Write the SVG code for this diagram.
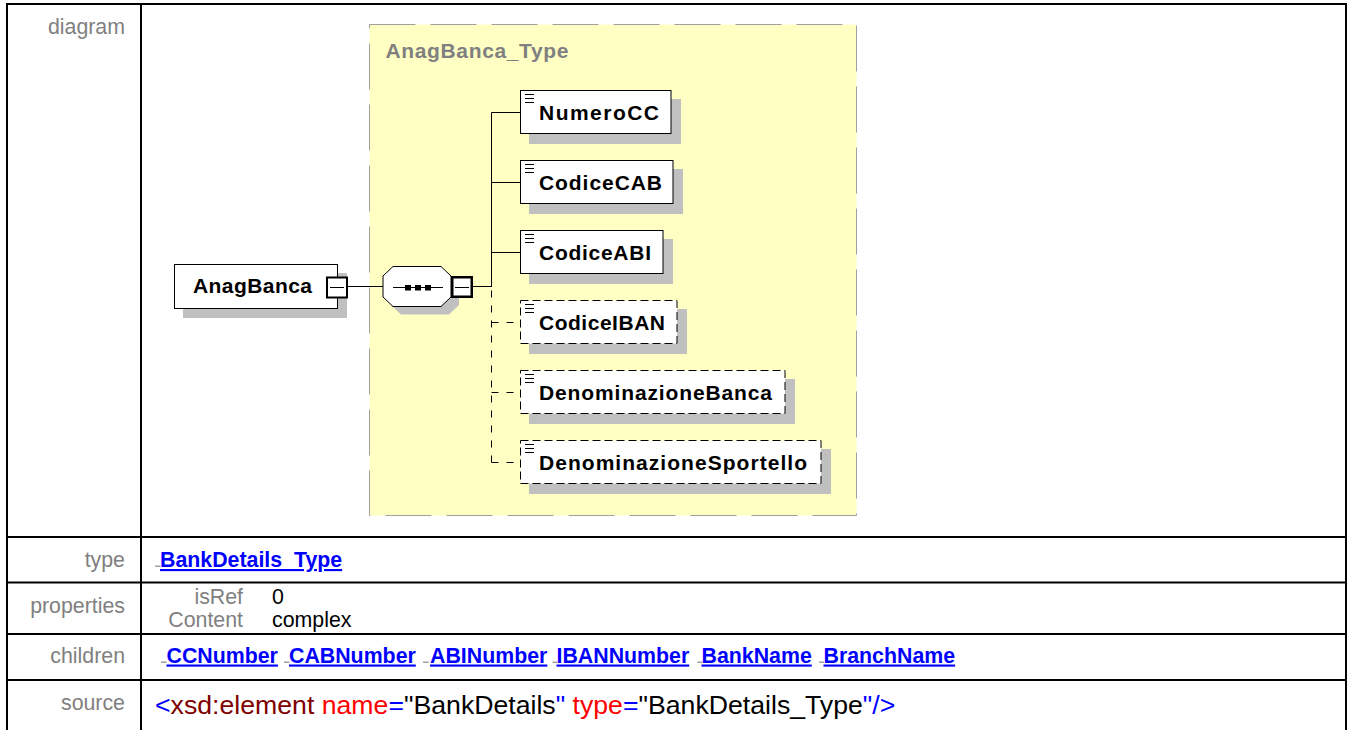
<svg xmlns="http://www.w3.org/2000/svg" width="1348" height="730" viewBox="0 0 1348 730">
<style>
.lbl{font-family:"Liberation Sans",Arial,sans-serif;font-size:21.33px;fill:#808080;text-anchor:end}
.val{font-family:"Liberation Sans",Arial,sans-serif;font-size:21.33px;fill:#000}
.lnk{font-family:"Liberation Sans",Arial,sans-serif;font-size:21.33px;font-weight:bold;fill:#0000ff;text-decoration:underline}
.src{font-family:"Liberation Sans",Arial,sans-serif;font-size:26.67px}
.nd{font-family:"Liberation Sans",Arial,sans-serif;font-size:21px;font-weight:bold;fill:#000}
.box{fill:#fff;stroke:#000;stroke-width:1}
.opt{stroke-dasharray:8 4}
.sh{fill:#c0c0c0}
.grid{stroke:#000;stroke-width:2;fill:none}
.con{stroke:#000;stroke-width:1;fill:none}
.dcon{stroke:#000;stroke-width:1;fill:none;stroke-dasharray:7 8}
.mark{fill:#a0a0a0}
.ico{stroke:#000;stroke-width:1}
</style>
<rect x="0" y="0" width="1348" height="730" fill="#fff"/>

<!-- table grid -->
<g id="table">
<line class="grid" x1="6" y1="4" x2="1347" y2="4"/>
<line class="grid" x1="7" y1="4" x2="7" y2="730"/>
<line class="grid" x1="141" y1="4" x2="141" y2="730"/>
<line class="grid" x1="1346" y1="4" x2="1346" y2="730"/>
<line class="grid" x1="6" y1="537" x2="1347" y2="537"/>
<line class="grid" x1="6" y1="582.5" x2="1347" y2="582.5"/>
<line class="grid" x1="6" y1="634" x2="1347" y2="634"/>
<line class="grid" x1="6" y1="680" x2="1347" y2="680"/>
<text class="lbl" x="125" y="34">diagram</text>
<text class="lbl" x="125" y="567">type</text>
<text class="lbl" x="125" y="613">properties</text>
<text class="lbl" x="125" y="663">children</text>
<text class="lbl" x="125" y="710">source</text>
</g>

<!-- complex type container -->
<g id="AnagBanca_Type">
<rect x="369.5" y="24.5" width="487" height="491" fill="#ffffc4" stroke="#a0a0a0" stroke-width="1" stroke-dasharray="46 15"/>
<text class="nd" x="385.5" y="57.5" style="fill:#808080" textLength="183" lengthAdjust="spacing">AnagBanca_Type</text>
</g>

<!-- connectors -->
<g id="connectors">
<line class="con" x1="348" y1="286.5" x2="383" y2="286.5"/>
<line class="con" x1="473" y1="286.5" x2="491.5" y2="286.5"/>
<path class="con" d="M491.5,112.5 V287"/>
<path class="con" d="M491.5,112.5 H520.5"/>
<path class="con" d="M491.5,182.5 H520.5"/>
<path class="con" d="M491.5,252.5 H520.5"/>
<path class="dcon" d="M491.5,462.5 V287"/>
<path class="dcon" d="M491.5,322.5 H520.5"/>
<path class="dcon" d="M491.5,392.5 H520.5"/>
<path class="dcon" d="M491.5,462.5 H520.5"/>
</g>

<!-- root element -->
<g id="AnagBanca">
<rect class="sh" x="183" y="273" width="164" height="45"/>
<rect class="box" x="174.5" y="264.5" width="163" height="44"/>
<text class="nd" x="193" y="293" textLength="119" lengthAdjust="spacing">AnagBanca</text>
<rect x="327" y="277.5" width="20" height="20" fill="#fff" stroke="#000" stroke-width="2"/>
<line class="ico" x1="330" y1="287.5" x2="344" y2="287.5"/>
</g>

<!-- sequence compositor -->
<g id="sequence">
<polygon class="sh" points="401,274.5 449,274.5 459,284 459,305 449,314.5 401,314.5 391,305 391,284"/>
<polygon class="box" points="393,266.5 441,266.5 451,276 451,297 441,306.5 393,306.5 383,297 383,276"/>
<line class="ico" x1="393" y1="287.5" x2="443" y2="287.5"/>
<rect x="405" y="285" width="6" height="5.5" fill="#000"/>
<rect x="415" y="285" width="6" height="5.5" fill="#000"/>
<rect x="425" y="285" width="6" height="5.5" fill="#000"/>
<rect x="452.25" y="277.25" width="19.5" height="19.5" fill="#fff" stroke="#000" stroke-width="2.5"/>
<line class="ico" x1="455" y1="287.5" x2="469" y2="287.5"/>
</g>

<g id="NumeroCC">
<rect class="sh" x="529" y="99" width="152" height="45"/>
<rect class="box" x="520.5" y="90.5" width="150.5" height="43"/>
<path class="ico" d="M525,94.5 h9 M525,98.5 h9 M525,102.5 h9"/>
<text class="nd" x="539" y="119.5" textLength="120" lengthAdjust="spacing">NumeroCC</text>
</g>
<g id="CodiceCAB">
<rect class="sh" x="529" y="169" width="154" height="45"/>
<rect class="box" x="520.5" y="160.5" width="152.5" height="43"/>
<path class="ico" d="M525,164.5 h9 M525,168.5 h9 M525,172.5 h9"/>
<text class="nd" x="539" y="189.5" textLength="123" lengthAdjust="spacing">CodiceCAB</text>
</g>
<g id="CodiceABI">
<rect class="sh" x="529" y="239" width="144" height="45"/>
<rect class="box" x="520.5" y="230.5" width="142.5" height="43"/>
<path class="ico" d="M525,234.5 h9 M525,238.5 h9 M525,242.5 h9"/>
<text class="nd" x="539" y="259.5" textLength="112" lengthAdjust="spacing">CodiceABI</text>
</g>
<g id="CodiceIBAN">
<rect class="sh" x="529" y="309" width="158" height="45"/>
<rect class="box opt" x="520.5" y="300.5" width="156.5" height="43"/>
<path class="ico" d="M525,304.5 h9 M525,308.5 h9 M525,312.5 h9"/>
<text class="nd" x="539" y="329.5" textLength="126" lengthAdjust="spacing">CodiceIBAN</text>
</g>
<g id="DenominazioneBanca">
<rect class="sh" x="529" y="379" width="266" height="45"/>
<rect class="box opt" x="520.5" y="370.5" width="264.5" height="43"/>
<path class="ico" d="M525,374.5 h9 M525,378.5 h9 M525,382.5 h9"/>
<text class="nd" x="539" y="399.5" textLength="233" lengthAdjust="spacing">DenominazioneBanca</text>
</g>
<g id="DenominazioneSportello">
<rect class="sh" x="529" y="449" width="302" height="45"/>
<rect class="box opt" x="520.5" y="440.5" width="300.5" height="43"/>
<path class="ico" d="M525,444.5 h9 M525,448.5 h9 M525,452.5 h9"/>
<text class="nd" x="539" y="469.5" textLength="268" lengthAdjust="spacing">DenominazioneSportello</text>
</g>

<!-- type row -->
<g id="type-row">
<rect class="mark" x="155" y="565.5" width="5.5" height="1.5"/>
<text class="lnk" x="160" y="567">BankDetails_Type</text>
</g>

<!-- properties row -->
<g id="properties-row">
<text class="lbl" x="243" y="604">isRef</text>
<text class="val" x="272" y="604">0</text>
<text class="lbl" x="243" y="627">Content</text>
<text class="val" x="272" y="627">complex</text>
</g>

<!-- children row -->
<g id="children-row">
<rect class="mark" x="161" y="661.5" width="5.5" height="1.5"/>
<text class="lnk" x="166.5" y="662.5">CCNumber</text>
<rect class="mark" x="284" y="661.5" width="5.5" height="1.5"/>
<text class="lnk" x="289" y="662.5">CABNumber</text>
<rect class="mark" x="423" y="661.5" width="5.5" height="1.5"/>
<text class="lnk" x="430" y="662.5">ABINumber</text>
<rect class="mark" x="552.5" y="661.5" width="5" height="1.5"/>
<text class="lnk" x="556.5" y="662.5">IBANNumber</text>
<rect class="mark" x="697.5" y="661.5" width="5" height="1.5"/>
<text class="lnk" x="701.5" y="662.5">BankName</text>
<rect class="mark" x="819" y="661.5" width="5" height="1.5"/>
<text class="lnk" x="823.5" y="662.5">BranchName</text>
</g>

<!-- source row -->
<g id="source-row">
<text class="src" x="155" y="714"><tspan fill="#0000ff">&lt;</tspan><tspan fill="#800000">xsd:element</tspan><tspan fill="#000"> </tspan><tspan fill="#ff0000">name</tspan><tspan fill="#0000ff">=</tspan><tspan fill="#000">"BankDetails</tspan><tspan fill="#0000ff">"</tspan><tspan fill="#000"> </tspan><tspan fill="#ff0000">type</tspan><tspan fill="#0000ff">=</tspan><tspan fill="#000">"BankDetails_Type</tspan><tspan fill="#0000ff">"/&gt;</tspan></text>
</g>
</svg>
